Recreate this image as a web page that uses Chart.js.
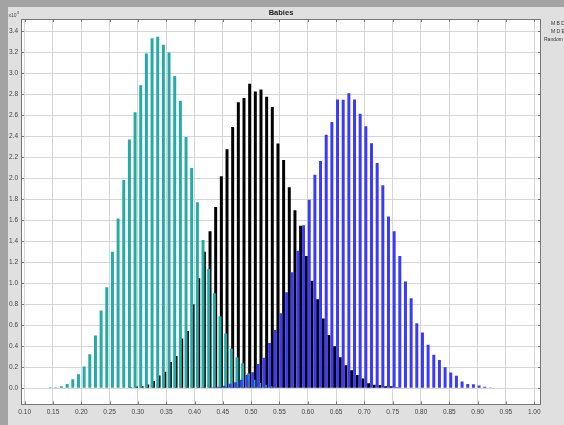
<!DOCTYPE html>
<html lang="en">
<head>
<meta charset="UTF-8">
<title>Babies</title>
<style>
    html, body {
        margin: 0;
        padding: 0;
        background: #e0e0e0;
        overflow: hidden;
    }
    #babyChart {
        display: block;
    }
</style>
<script src="https://cdn.jsdelivr.net/npm/chart.js"></script>
</head>
<body>
<canvas id="babyChart" width="564" height="425"></canvas>
<script>
    // histogram bins are 0.01 wide, values in thousands
    const binWidth = 0.01;

    const tealFirstBin = 0.14;
    const tealCounts = [
        0.01, 0.01, 0.02, 0.04, 0.086, 0.134, 0.207, 0.324, 0.502, 0.741,
        0.963, 1.30, 1.618, 1.984, 2.369, 2.630, 2.887, 3.189, 3.335, 3.348,
        3.272, 3.199, 2.976, 2.738, 2.394, 2.099, 1.771, 1.412, 1.135, 0.906,
        0.687, 0.521, 0.378, 0.296, 0.237, 0.141, 0.08, 0.05, 0.03, 0.02,
        0.01
    ];

    const blackFirstBin = 0.27;
    const blackCounts = [
        0.005, 0.01, 0.016, 0.02, 0.035, 0.07, 0.122, 0.157, 0.249, 0.306,
        0.475, 0.545, 0.799, 1.047, 1.301, 1.495, 1.726, 2.019, 2.277, 2.489,
        2.725, 2.765, 2.902, 2.827, 2.846, 2.777, 2.679, 2.331, 2.174, 1.916,
        1.695, 1.547, 1.261, 1.025, 0.848, 0.665, 0.506, 0.401, 0.295, 0.218,
        0.172, 0.126, 0.092, 0.047, 0.034, 0.03, 0.02, 0.018, 0.01
    ];

    const blueFirstBin = 0.41;
    const blueCounts = [
        0.003, 0.005, 0.01, 0.015, 0.023, 0.043, 0.058, 0.08, 0.125, 0.153,
        0.23, 0.29, 0.43, 0.555, 0.714, 0.915, 1.106, 1.309, 1.554, 1.795,
        2.034, 2.164, 2.415, 2.536, 2.752, 2.749, 2.81, 2.752, 2.616, 2.495,
        2.333, 2.145, 1.935, 1.636, 1.496, 1.261, 1.016, 0.857, 0.619, 0.53,
        0.415, 0.32, 0.27, 0.20, 0.15, 0.12, 0.064, 0.041, 0.038, 0.025,
        0.013, 0.006, 0.005, 0.005
    ];

    const seriesNames = ['M B D', 'M D E', 'Random'];
    const xTicks = [0.10, 0.15, 0.20, 0.25, 0.30, 0.35, 0.40, 0.45, 0.50, 0.55,
                    0.60, 0.65, 0.70, 0.75, 0.80, 0.85, 0.90, 0.95, 1.00];
    const yTicks = [0.0, 0.2, 0.4, 0.6, 0.8, 1.0, 1.2, 1.4, 1.6, 1.8,
                    2.0, 2.2, 2.4, 2.6, 2.8, 3.0, 3.2, 3.4];

    function toPoints(firstBin, counts) {
        return counts.map((y, i) => ({
            x: Math.round((firstBin + i * binWidth + binWidth / 2) * 1000) / 1000,
            y: y
        }));
    }

    Chart.defaults.font.family = '"Liberation Sans", Arial, sans-serif';
    Chart.defaults.font.size = 6.5;
    Chart.defaults.color = '#444';

    // panel, plot frame, title and the clipped legend on the right
    const framePlugin = {
        id: 'frame',
        beforeDraw(chart) {
            const c = chart.ctx, a = chart.chartArea;
            c.save();
            c.fillStyle = '#e0e0e0';
            c.fillRect(0, 0, chart.width, chart.height);
            c.fillStyle = '#a3a3a3';
            c.fillRect(0, 0, chart.width, 7);
            c.fillRect(0, 0, 8, chart.height);
            c.fillStyle = '#ffffff';
            c.fillRect(a.left, a.top, a.right - a.left, a.bottom - a.top);
            c.restore();
        },
        afterDraw(chart) {
            const c = chart.ctx, a = chart.chartArea;
            const xs = chart.scales.x, ys = chart.scales.y;
            c.save();
            c.strokeStyle = '#777';
            c.lineWidth = 1;
            c.strokeRect(Math.round(a.left) + 0.5, Math.round(a.top) + 0.5,
                         Math.round(a.right - a.left) - 1, Math.round(a.bottom - a.top) - 1);
            c.beginPath();
            yTicks.forEach(v => {
                const py = Math.round(ys.getPixelForValue(v)) + 0.5;
                c.moveTo(a.left, py); c.lineTo(a.left + 3, py);
                c.moveTo(a.right - 3, py); c.lineTo(a.right, py);
            });
            xTicks.forEach(v => {
                const px = Math.round(xs.getPixelForValue(v)) + 0.5;
                c.moveTo(px, a.bottom); c.lineTo(px, a.bottom - 3);
                c.moveTo(px, a.top); c.lineTo(px, a.top + 3);
            });
            c.stroke();

            c.fillStyle = '#222';
            c.textAlign = 'center';
            c.textBaseline = 'middle';
            c.font = 'bold 7.5px "Liberation Sans", Arial, sans-serif';
            c.fillText('Babies', (a.left + a.right) / 2, 12.5);

            c.fillStyle = '#444';
            c.textAlign = 'left';
            c.textBaseline = 'alphabetic';
            c.font = '5px "Liberation Sans", Arial, sans-serif';
            c.fillText('x10', 8.5, 17);
            c.font = '4px "Liberation Sans", Arial, sans-serif';
            c.fillText('3', 16.8, 13.5);

            c.fillStyle = '#333';
            c.font = '5px "Liberation Sans", Arial, sans-serif';
            c.textBaseline = 'middle';
            c.fillText(seriesNames[0], 551, 24);
            c.fillText(seriesNames[1], 551, 32);
            c.fillText(seriesNames[2], 544, 40);
            c.restore();
        }
    };

    const ctx = document.getElementById('babyChart').getContext('2d');
    new Chart(ctx, {
        type: 'bar',
        data: {
            datasets: [
                { label: seriesNames[2], data: toPoints(blueFirstBin, blueCounts), backgroundColor: '#3a3afb' },
                { label: seriesNames[0], data: toPoints(tealFirstBin, tealCounts), backgroundColor: '#24aba7' },
                { label: seriesNames[1], data: toPoints(blackFirstBin, blackCounts), backgroundColor: '#000000' }
            ]
        },
        options: {
            responsive: false,
            animation: false,
            devicePixelRatio: 1,
            datasets: {
                bar: {
                    categoryPercentage: 0.716,
                    barPercentage: 2.2
                }
            },
            layout: { padding: { top: 19, right: 23, left: 0, bottom: 0 } },
            plugins: {
                legend: { display: false },
                title: { display: false },
                tooltip: { enabled: false }
            },
            scales: {
                x: {
                    type: 'linear',
                    min: 0.0935,
                    max: 1.012,
                    offset: false,
                    afterBuildTicks: s => { s.ticks = xTicks.map(v => ({ value: v })); },
                    afterFit: s => { s.height = 20.5; },
                    grid: { color: '#d6d6d6', offset: false, drawTicks: false },
                    border: { display: false },
                    ticks: {
                        autoSkip: false,
                        maxRotation: 0,
                        padding: 3.5,
                        callback: v => Number(v).toFixed(2)
                    }
                },
                y: {
                    type: 'linear',
                    min: -0.155,
                    max: 3.518,
                    afterBuildTicks: s => { s.ticks = yTicks.map(v => ({ value: v })); },
                    afterFit: s => { s.width = 21; },
                    grid: { color: '#d6d6d6', drawTicks: false },
                    border: { display: false },
                    ticks: {
                        padding: 3,
                        callback: v => Number(v).toFixed(1)
                    }
                }
            }
        },
        plugins: [framePlugin]
    });
</script>
</body>
</html>
